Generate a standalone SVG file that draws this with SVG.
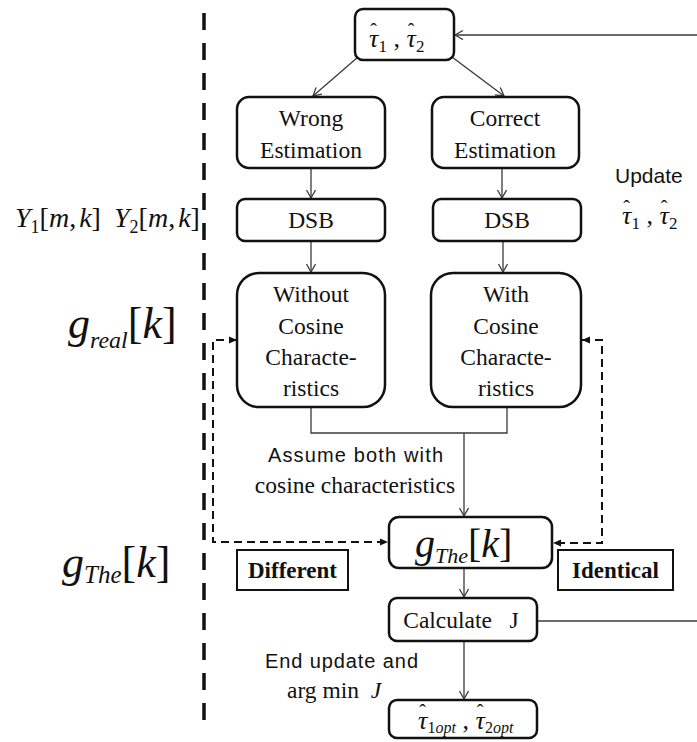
<svg xmlns="http://www.w3.org/2000/svg" width="697" height="742" viewBox="0 0 697 742">
<style>
.box{fill:#fff;stroke:#111;stroke-width:2.5}
.lbl{fill:#fff;stroke:#111;stroke-width:2}
.c{fill:none;stroke:#3a3a3a;stroke-width:1.3}
.d{fill:none;stroke:#111;stroke-width:2;stroke-dasharray:8 5}
</style>
<defs>
<marker id="open" markerUnits="userSpaceOnUse" markerWidth="12" markerHeight="12" refX="9" refY="5" orient="auto">
<path d="M1,0.5 L9,5 L1,9.5" fill="none" stroke="#3a3a3a" stroke-width="1.3"/>
</marker>
<marker id="solid" markerUnits="userSpaceOnUse" markerWidth="10" markerHeight="10" refX="8" refY="4" orient="auto-start-reverse">
<path d="M0,0.5 L8,4 L0,7.5 z" fill="#111"/>
</marker>
</defs>

<line x1="204" y1="13" x2="204" y2="722" stroke="#111" stroke-width="3.5" stroke-dasharray="17 13"/>

<g id="connectors">
<line class="c" x1="697" y1="35" x2="455" y2="35" marker-end="url(#open)"/>
<line class="c" x1="358" y1="57" x2="313" y2="96" marker-end="url(#open)"/>
<line class="c" x1="452" y1="57" x2="504" y2="96" marker-end="url(#open)"/>
<line class="c" x1="311" y1="168" x2="311" y2="198" marker-end="url(#open)"/>
<line class="c" x1="502" y1="168" x2="502" y2="198" marker-end="url(#open)"/>
<line class="c" x1="311" y1="241" x2="311" y2="272" marker-end="url(#open)"/>
<line class="c" x1="503" y1="241" x2="503" y2="272" marker-end="url(#open)"/>
<polyline class="c" points="311,407 311,433 507,433 507,407"/>
<line class="c" x1="464" y1="433" x2="464" y2="516" marker-end="url(#open)"/>
<line class="c" x1="464" y1="568" x2="464" y2="597" marker-end="url(#open)"/>
<line class="c" x1="464" y1="641" x2="464" y2="699" marker-end="url(#open)"/>
<line class="c" x1="537" y1="621" x2="697" y2="621"/>
<path class="d" d="M237,340 H213 V542 H388" marker-start="url(#solid)" marker-end="url(#solid)"/>
<path class="d" d="M582,340 H602 V543 H553" marker-start="url(#solid)" marker-end="url(#solid)"/>
</g>

<g font-family="'Liberation Serif', 'Times New Roman', serif" fill="#111">

<g id="n-tau">
<rect class="box" x="355" y="9" width="99" height="51" rx="8"/>
<text x="369" y="47" font-size="26" font-style="italic">τ<tspan font-style="normal" font-size="20" dx="-8" dy="-9">ˆ</tspan><tspan font-style="normal" font-size="17" dx="1.5" dy="14">1</tspan><tspan font-style="normal" dy="-5"> , </tspan>τ<tspan font-style="normal" font-size="20" dx="-8" dy="-9">ˆ</tspan><tspan font-style="normal" font-size="17" dx="1.5" dy="14">2</tspan></text>
</g>

<g id="n-wrong" font-size="23.5" text-anchor="middle">
<rect class="box" x="237" y="97" width="148" height="71" rx="12"/>
<text x="311" y="126">Wrong</text>
<text x="311" y="158">Estimation</text>
</g>

<g id="n-correct" font-size="23.5" text-anchor="middle">
<rect class="box" x="432" y="97" width="147" height="71" rx="12"/>
<text x="505" y="126">Correct</text>
<text x="505" y="158">Estimation</text>
</g>

<g id="n-dsb1" font-size="23.5" text-anchor="middle">
<rect class="box" x="237" y="199" width="148" height="42" rx="8"/>
<text x="311" y="228">DSB</text>
</g>

<g id="n-dsb2" font-size="23.5" text-anchor="middle">
<rect class="box" x="433" y="199" width="148" height="42" rx="8"/>
<text x="507" y="228">DSB</text>
</g>

<g id="n-without" font-size="23.5" text-anchor="middle">
<rect class="box" x="237" y="273" width="148" height="134" rx="22"/>
<text x="311" y="302">Without</text>
<text x="311" y="333.5">Cosine</text>
<text x="311" y="365">Characte-</text>
<text x="311" y="396">ristics</text>
</g>

<g id="n-with" font-size="23.5" text-anchor="middle">
<rect class="box" x="431" y="273" width="150" height="134" rx="22"/>
<text x="506" y="302">With</text>
<text x="506" y="333.5">Cosine</text>
<text x="506" y="365">Characte-</text>
<text x="506" y="396">ristics</text>
</g>

<g id="n-gthe">
<rect class="box" x="389" y="517" width="163" height="51" rx="10"/>
<text x="415" y="557" font-size="40"><tspan font-style="italic">g</tspan><tspan font-style="italic" font-size="22" dy="6">The</tspan><tspan dy="-6">[</tspan><tspan font-style="italic">k</tspan>]</text>
</g>

<g id="n-calc" font-size="23.5" text-anchor="middle">
<rect class="box" x="389" y="598" width="148" height="43" rx="8"/>
<text x="461" y="628" xml:space="preserve">Calculate   J</text>
</g>

<g id="n-final">
<rect class="box" x="389" y="700" width="148" height="38" rx="8"/>
<text x="418" y="729" font-size="26" font-style="italic">τ<tspan font-style="normal" font-size="20" dx="-8" dy="-10">ˆ</tspan><tspan font-size="16" dx="1.5" dy="14"><tspan font-style="normal">1</tspan>opt</tspan><tspan font-style="normal" dy="-4"> , </tspan>τ<tspan font-style="normal" font-size="20" dx="-8" dy="-10">ˆ</tspan><tspan font-size="16" dx="1.5" dy="14"><tspan font-style="normal">2</tspan>opt</tspan></text>
</g>

<g id="n-different" font-size="23" font-weight="bold" text-anchor="middle">
<rect class="lbl" x="237" y="550" width="111" height="40"/>
<text x="292.5" y="578">Different</text>
</g>

<g id="n-identical" font-size="23" font-weight="bold" text-anchor="middle">
<rect class="lbl" x="558" y="550" width="115" height="40"/>
<text x="615.5" y="578">Identical</text>
</g>

<g id="labels">
<text x="268" y="462" font-family="'Liberation Sans', Arial, sans-serif" font-size="20" textLength="175">Assume both with</text>
<text x="355" y="493" font-size="23.5" text-anchor="middle">cosine characteristics</text>
<text x="265" y="668" font-family="'Liberation Sans', Arial, sans-serif" font-size="20" textLength="153">End update and</text>
<text x="287" y="698" font-size="23.5" xml:space="preserve">arg min  <tspan font-style="italic">J</tspan></text>
<text x="615" y="183" font-family="'Liberation Sans', Arial, sans-serif" font-size="21">Update</text>
<text x="622" y="224" font-size="26" font-style="italic">τ<tspan font-style="normal" font-size="20" dx="-8" dy="-9">ˆ</tspan><tspan font-style="normal" font-size="17" dx="1.5" dy="14">1</tspan><tspan font-style="normal" dy="-5"> , </tspan>τ<tspan font-style="normal" font-size="20" dx="-8" dy="-9">ˆ</tspan><tspan font-style="normal" font-size="17" dx="1.5" dy="14">2</tspan></text>
<text x="15" y="227" font-size="28"><tspan font-style="italic">Y</tspan><tspan font-size="18" dy="6">1</tspan><tspan dy="-6">[</tspan><tspan font-style="italic">m</tspan>,<tspan font-style="italic" dx="3">k</tspan>]<tspan font-style="italic" x="114">Y</tspan><tspan font-size="18" dy="6">2</tspan><tspan dy="-6">[</tspan><tspan font-style="italic">m</tspan>,<tspan font-style="italic" dx="3">k</tspan>]</text>
<text x="68" y="338" font-size="44"><tspan font-style="italic">g</tspan><tspan font-style="italic" font-size="24" dy="10">real</tspan><tspan dy="-10">[</tspan><tspan font-style="italic">k</tspan>]</text>
<text x="62" y="577" font-size="44"><tspan font-style="italic">g</tspan><tspan font-style="italic" font-size="25" dy="6">The</tspan><tspan dy="-6">[</tspan><tspan font-style="italic">k</tspan>]</text>
</g>
</g>
</svg>
